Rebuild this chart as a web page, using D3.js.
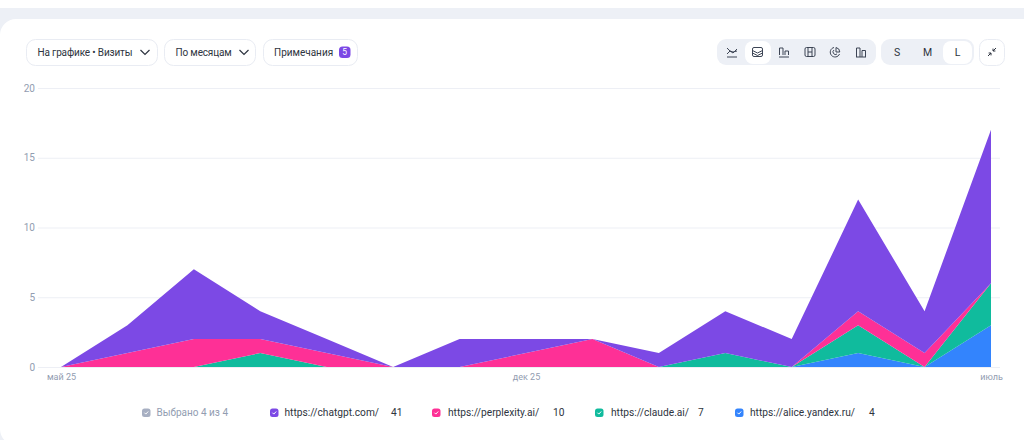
<!DOCTYPE html>
<html>
<head>
<meta charset="utf-8">
<script src="https://cdn.jsdelivr.net/npm/d3@7"></script>
<style>
html, body { margin: 0; padding: 0; background: #edf0f6; overflow: hidden; }
svg { display: block; font-family: Roboto, "Noto Sans", sans-serif; }
</style>
</head>
<body>
<svg id="chart"></svg>
<script>
const width = 1024;
const height = 440;

// visits by month, may 25 .. july 26
const months = ['май 25','июнь 25','июль 25','авг 25','сент 25','окт 25','нояб 25','дек 25','янв 26','февр 26','март 26','апр 26','май 26','июнь 26','июль'];
const tickLabels = ['май 25', 'дек 25', 'июль'];
const yTicks = [0, 5, 10, 15, 20];

const alice = [0,0,0,0,0,0,0,0,0,0,0,0,1,0,3];
const claude = [0,0,0,1,0,0,0,0,0,0,1,0,2,0,3];
const perplexity = [0,1,2,1,1,0,0,1,2,0,0,0,1,1,0];
const chatgpt = [0,2,5,2,1,0,2,1,0,1,3,2,8,3,11];

const seriesNames = ['https://alice.yandex.ru/', 'https://claude.ai/', 'https://perplexity.ai/', 'https://chatgpt.com/'];
const seriesColors = ['#3384fd', '#10bb9d', '#fe3096', '#7c49e5'];
const seriesValues = [alice, claude, perplexity, chatgpt];
const seriesTotals = [4, 7, 10, 41];

const svg = d3.select('#chart').attr('width', width).attr('height', height);

// cards
svg.append('rect').attr('x', -20).attr('y', -30).attr('width', width + 40).attr('height', 38).attr('rx', 14).attr('fill', '#fff');
svg.append('rect').attr('x', 0).attr('y', 19).attr('width', width + 30).attr('height', 426).attr('rx', 16).attr('fill', '#fff');

const x = d3.scalePoint().domain(months).range([61, 991]);
const y = d3.scaleLinear().domain([0, 20]).range([367, 88]);

// y axis and grid
const yAxis = svg.append('g')
    .attr('transform', 'translate(38,0)')
    .call(d3.axisLeft(y).tickValues(yTicks).tickSize(0).tickPadding(3));
yAxis.select('.domain').remove();
yAxis.selectAll('text').attr('font-size', 10).attr('fill', '#929db1').attr('font-family', 'Roboto');
yAxis.selectAll('line')
    .attr('x2', 962)
    .attr('stroke', '#edeff5');

// stacked areas
const table = months.map((m, i) => {
    const row = { month: m };
    seriesNames.forEach((n, j) => { row[n] = seriesValues[j][i]; });
    return row;
});
const stacked = d3.stack().keys(seriesNames)(table);
const area = d3.area()
    .x(d => x(d.data.month))
    .y0(d => y(d[0]))
    .y1(d => y(d[1]));

svg.append('g').selectAll('path')
    .data(stacked)
    .join('path')
    .attr('d', area)
    .attr('fill', (d, i) => seriesColors[i]);

// x axis
const xAxis = svg.append('g')
    .attr('transform', 'translate(0,367)')
    .call(d3.axisBottom(x).tickValues(tickLabels).tickSize(0).tickPadding(7));
xAxis.select('.domain').remove();
xAxis.selectAll('text').attr('font-size', 9).attr('fill', '#929db1').attr('font-family', 'Roboto');

// toolbar on the left
function pill(px, w, label, labelX, spacing) {
    svg.append('rect').attr('x', px + 0.5).attr('y', 39.5).attr('width', w).attr('height', 26).attr('rx', 9)
        .attr('fill', '#fff').attr('stroke', '#e9ecf3');
    svg.append('text').attr('x', labelX).attr('y', 56).attr('font-size', 10).attr('letter-spacing', spacing)
        .attr('fill', '#2e3440').text(label);
}
function chevron(cx) {
    svg.append('path').attr('d', `M${cx - 4.5},50 L${cx},54.5 L${cx + 4.5},50`)
        .attr('fill', 'none').attr('stroke', '#2e3440').attr('stroke-width', 1.2);
}
pill(26, 131, 'На графике • Визиты', 37.5, -0.15);
chevron(145);
pill(164, 91, 'По месяцам', 175.5, -0.15);
chevron(244);
pill(263, 94, 'Примечания', 274, 0);
svg.append('rect').attr('x', 339).attr('y', 46.5).attr('width', 11.5).attr('height', 11.5).attr('rx', 3.5).attr('fill', '#7c49e5');
svg.append('text').attr('x', 344.7).attr('y', 55.4).attr('text-anchor', 'middle').attr('font-size', 8.5).attr('fill', '#fff').text('5');

// toolbar on the right
svg.append('rect').attr('x', 717).attr('y', 39).attr('width', 159).attr('height', 26).attr('rx', 9).attr('fill', '#edf0f6');
svg.append('rect').attr('x', 745).attr('y', 41).attr('width', 26).attr('height', 23).attr('rx', 8).attr('fill', '#fff');
svg.append('rect').attr('x', 881).attr('y', 39).attr('width', 93).attr('height', 26).attr('rx', 9).attr('fill', '#edf0f6');
svg.append('rect').attr('x', 943).attr('y', 41).attr('width', 29).attr('height', 23).attr('rx', 8).attr('fill', '#fff');
svg.append('rect').attr('x', 979.5).attr('y', 39.5).attr('width', 25).attr('height', 26).attr('rx', 8).attr('fill', '#fff').attr('stroke', '#e9ecf3');

const sizeLabels = ['S', 'M', 'L'];
const sizeX = [897, 927.5, 957.5];
sizeLabels.forEach((s, i) => {
    svg.append('text').attr('x', sizeX[i]).attr('y', 56).attr('text-anchor', 'middle')
        .attr('font-size', 10.5).attr('fill', '#2e3440').text(s);
});

const iconPaths = [
    'M-5,5H5 M-5,2L-2,-1L1,1L5,-3 M-5,-4L-2,-1L1,0L5,-1',
    'M-3.5,-4.5H3.5Q5,-4.5 5,-3V3Q5,4.5 3.5,4.5H-3.5Q-5,4.5 -5,3V-3Q-5,-4.5 -3.5,-4.5Z M-5,-1.5L0,1L5,-1.5 M-5,1L0,3.5L5,1',
    'M-5,5H5 M-4.5,3V-4H-1V3 M1,3V-1H4.5V3',
    'M-3.5,-4.5H3.5Q5,-4.5 5,-3V3Q5,4.5 3.5,4.5H-3.5Q-5,4.5 -5,3V-3Q-5,-4.5 -3.5,-4.5Z M-2,-4.5V4.5 M2,-4.5V4.5 M-2,0H2',
    'M-1,-4.5A4.8,4.8 0 1 0 4.5,2 M1,-4.5A4.8,4.8 0 0 1 4.8,0 H1 Z M-1,-2A2.5,2.5 0 1 0 2,2',
    'M-5,5H5 M-4.5,5V-4H-1V5 M1,5V-1.5H4.5V5'
];
const iconX = [732, 757.5, 784, 810, 835, 861];
iconPaths.forEach((d, i) => {
    svg.append('path').attr('transform', `translate(${iconX[i]},52)`).attr('d', d)
        .attr('fill', 'none').attr('stroke', '#3d4555').attr('stroke-width', 1);
});
svg.append('path').attr('transform', 'translate(992,52)')
    .attr('d', 'M1,-1L4,-4 M1,-1H3.4 M1,-1V-3.4 M-1,1L-4,4 M-1,1H-3.4 M-1,1V3.4')
    .attr('fill', 'none').attr('stroke', '#2e3440').attr('stroke-width', 1);

// legend
function checkbox(bx, color) {
    svg.append('rect').attr('x', bx).attr('y', 408.5).attr('width', 8.5).attr('height', 8.5).attr('rx', 2.5).attr('fill', color);
    svg.append('path').attr('d', `M${bx + 2.4},412.7 L${bx + 3.8},414.1 L${bx + 6.2},411.5`)
        .attr('fill', 'none').attr('stroke', '#fff').attr('stroke-width', 1);
}
checkbox(142, '#a7afc2');
svg.append('text').attr('x', 156.5).attr('y', 416).attr('font-size', 10).attr('fill', '#929db1').text('Выбрано 4 из 4');

const legendBox = [270, 432, 595, 735];
const legendText = [284.5, 448, 611, 750];
const legendNum = [391, 553, 698, 869];
[3, 2, 1, 0].forEach((k, i) => {
    checkbox(legendBox[i], seriesColors[k]);
    svg.append('text').attr('x', legendText[i]).attr('y', 416).attr('font-size', 10.2).attr('fill', '#2e3440').text(seriesNames[k]);
    svg.append('text').attr('x', legendNum[i]).attr('y', 416).attr('font-size', 10.2).attr('fill', '#2e3440').text(seriesTotals[k]);
});
</script>
</body>
</html>
